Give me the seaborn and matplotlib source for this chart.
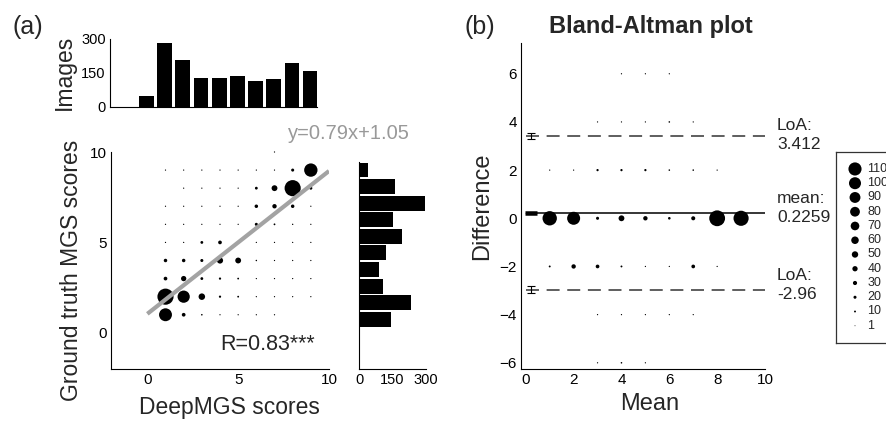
import numpy as np
import pandas as pd
import matplotlib
matplotlib.use("Agg")
import matplotlib.pyplot as plt
import seaborn as sns

# ---------------- data ----------------
deep_scores = [0, 1, 2, 3, 4, 5, 6, 7, 8, 9]
deep_images = [48, 279, 206, 127, 127, 135, 113, 125, 193, 156]

gt_scores = [0, 1, 2, 3, 4, 5, 6, 7, 8, 9, 10]
gt_images = [3, 143, 233, 109, 88, 119, 191, 154, 296, 163, 39]

scatter_cols = [1, 2, 3, 4, 5, 6, 7, 8, 9]          # DeepMGS score
scatter_rows = [1, 2, 3, 4, 5, 6, 7, 8, 9, 10]      # ground-truth score
scatter_counts = [
    [108, 26, 7, 4, 4, 4, 4, 0, 0],        # gt = 1
    [137, 102, 51, 13, 9, 4, 4, 4, 4],     # gt = 2
    [26, 40, 18, 13, 9, 4, 4, 4, 4],       # gt = 3
    [24, 24, 20, 48, 45, 6, 4, 4, 4],      # gt = 4
    [4, 4, 18, 26, 4, 4, 4, 4, 4],         # gt = 5
    [4, 4, 4, 4, 4, 20, 9, 5, 4],          # gt = 6
    [4, 4, 4, 4, 4, 24, 32, 24, 4],        # gt = 7
    [0, 4, 4, 4, 4, 18, 45, 137, 20],      # gt = 8
    [4, 4, 4, 4, 4, 4, 4, 20, 112],        # gt = 9
    [0, 0, 0, 0, 0, 0, 4, 0, 0],           # gt = 10
]
fit_slope = 0.79
fit_intercept = 1.05
fit_label = "y=0.79x+1.05"
r_label = "R=0.83***"

ba_means = [1, 2, 3, 4, 5, 6, 7, 8, 9]
ba_diffs = [6, 4, 2, 0, -2, -4, -6]
ba_counts = [
    [0, 0, 0, 4, 4, 4, 0, 0, 0],                 # diff 6
    [0, 0, 4, 4, 4, 7, 4, 0, 0],                 # diff 4
    [4, 4, 13, 13, 13, 7, 7, 4, 0],              # diff 2
    [121, 109, 20, 45, 32, 16, 29, 134, 128],    # diff 0
    [10, 32, 26, 10, 4, 4, 26, 4, 0],            # diff -2
    [0, 0, 4, 4, 4, 4, 4, 0, 0],                 # diff -4
    [0, 0, 4, 7, 4, 0, 0, 0, 0],                 # diff -6
]
mean_diff = 0.2259
loa_upper = 3.412
loa_lower = -2.96
loa_ci = 0.13
mean_ci = 0.04
legend_levels = [110, 100, 90, 80, 70, 60, 50, 40, 30, 20, 10, 1]

# ---------------- style ----------------
sns.set_theme(style="white")
plt.rcParams["font.family"] = ["Liberation Sans", "DejaVu Sans"]
plt.rcParams["axes.linewidth"] = 0.8
plt.rcParams["axes.edgecolor"] = "black"

W, H = 887, 421
fig = plt.figure(figsize=(W / 100, H / 100), dpi=100)


def rect(l, t, r, b):
    return [l / W, (H - b) / H, (r - l) / W, (b - t) / H]


def area(n):
    d_px = 0.8 + 0.112 * n
    return (d_px * 0.72) ** 2


def style_axes(ax, labelsize=11):
    sns.despine(ax=ax)
    ax.tick_params(direction="in", length=3, width=0.8, colors="black",
                   labelsize=labelsize, pad=3)


# ---------------- panel (a) scatter ----------------
ax = fig.add_axes(rect(111, 152, 329, 369))
recs = []
for yi, row in zip(scatter_rows, scatter_counts):
    for xi, n in zip(scatter_cols, row):
        if n > 0:
            recs.append((xi, yi, n))
df = pd.DataFrame(recs, columns=["x", "y", "n"])
sns.scatterplot(data=df, x="x", y="y", size="n",
                sizes={n: area(n) for n in df["n"].unique()},
                color="black", linewidth=0, legend=False, ax=ax, clip_on=False)
xs = np.array([0, 10])
ax.plot(xs, fit_slope * xs + fit_intercept, color="#a3a3a3", lw=3, zorder=3,
        solid_capstyle="butt")
ax.set_xlim(-2, 10)
ax.set_ylim(-2, 10)
ax.set_xticks([0, 5, 10])
ax.set_yticks([0, 5, 10])
style_axes(ax)
ax.set_xlabel("DeepMGS scores", fontsize=16.5)
ax.set_ylabel("Ground truth MGS scores", fontsize=16.5)
ax.xaxis.set_label_coords(0.541, -0.125)
ax.yaxis.set_label_coords(-0.13, 0.456)
ax.text(4.0, -0.66, r_label, fontsize=15.5, ha="left", va="center")
ax.text(7.75, 11.0, fit_label, fontsize=14.5, ha="left", va="center",
        color="#999999", clip_on=False)

# ---------------- panel (a) top histogram ----------------
axt = fig.add_axes(rect(110, 38.7, 317.5, 107))
sns.barplot(x=deep_scores, y=deep_images, native_scale=True, width=0.82,
            color="black", saturation=1, linewidth=0, errorbar=None, ax=axt)
axt.set_xlim(-2, 9.4)
axt.set_ylim(0, 300)
axt.set_xticks([])
axt.set_yticks([0, 150, 300])
style_axes(axt, labelsize=10.5)
axt.set_xlabel("")
axt.set_ylabel("Images", fontsize=16.5)
axt.yaxis.set_label_coords(-0.165, 0.5)

# ---------------- panel (a) right histogram ----------------
axr = fig.add_axes(rect(359, 161.7, 426, 369))
sns.barplot(x=gt_images, y=gt_scores, orient="h", native_scale=True, width=0.9,
            color="black", saturation=1, linewidth=0, errorbar=None, ax=axr)
axr.set_ylim(-2, 10.5)
axr.set_xlim(0, 300)
axr.set_yticks([])
axr.set_xticks([0, 150, 300])
style_axes(axr, labelsize=10.5)
axr.set_xlabel("")
axr.set_ylabel("")

# ---------------- panel (b) Bland-Altman ----------------
axb = fig.add_axes(rect(521, 42.7, 765, 369.3))
recs = []
for yi, row in zip(ba_diffs, ba_counts):
    for xi, n in zip(ba_means, row):
        if n > 0:
            recs.append((xi, yi, n))
dfb = pd.DataFrame(recs, columns=["mean", "diff", "n"])
sns.scatterplot(data=dfb, x="mean", y="diff", size="n",
                sizes={n: area(n) for n in dfb["n"].unique()},
                color="black", linewidth=0, legend=False, ax=axb, clip_on=False)
axb.hlines(mean_diff, 0, 10, color="black", lw=1.1, zorder=1)
for val in (loa_upper, loa_lower):
    axb.hlines(val, 0, 10, color="#333333", lw=1.1, linestyles=(0, (8.5, 5)))
    axb.errorbar(0.22, val, yerr=loa_ci, color="black", lw=0.8, capsize=2.9,
                 capthick=0.8)
axb.errorbar(0.22, mean_diff, yerr=mean_ci, color="black", lw=0.8, capsize=4.2,
             capthick=1.8)
axb.set_xlim(-0.2, 10)
axb.set_ylim(-6.27, 7.29)
axb.set_xticks([0, 2, 4, 6, 8, 10])
axb.set_yticks([-6, -4, -2, 0, 2, 4, 6])
style_axes(axb)
axb.set_xlabel("Mean", fontsize=17)
axb.set_ylabel("Difference", fontsize=17)
axb.xaxis.set_label_coords(0.529, -0.072)
axb.yaxis.set_label_coords(-0.115, 0.5)
axb.text(0.533, 1.0297, "Bland-Altman plot", transform=axb.transAxes,
         ha="center", va="baseline", fontsize=17, fontweight="bold")
ann = [("LoA:\n3.412", loa_upper, 0.05),
       ("mean:\n0.2259", mean_diff, 0.2),
       ("LoA:\n-2.96", loa_lower, 0.19)]
for txt, val, off in ann:
    axb.text(10.5, val + off, txt, fontsize=12.5, ha="left", va="center",
             linespacing=1.3, clip_on=False)

# ---------------- size legend ----------------
axl = fig.add_axes(rect(836, 152, 900, 343))
dfl = pd.DataFrame({"x": [19] * len(legend_levels),
                    "row": np.arange(len(legend_levels)),
                    "n": legend_levels})
sns.scatterplot(data=dfl, x="x", y="row", size="n",
                sizes={n: area(n) for n in legend_levels},
                color="black", linewidth=0, legend=False, ax=axl)
for r, n in zip(dfl["row"], legend_levels):
    axl.text(31.5, r, str(n), fontsize=9, ha="left", va="center")
axl.set_xlim(0, 64)
axl.set_ylim(12.21, -1.19)
axl.set_xticks([])
axl.set_yticks([])
axl.set_xlabel("")
axl.set_ylabel("")
for sp in axl.spines.values():
    sp.set_visible(True)
    sp.set_color("#333333")
    sp.set_linewidth(0.9)

# ---------------- panel letters ----------------
fig.text(13 / W, 1 - 15 / H, "(a)", fontsize=18, ha="left", va="top")
fig.text(465 / W, 1 - 15 / H, "(b)", fontsize=18, ha="left", va="top")

fig.savefig("out.png", dpi=100)
